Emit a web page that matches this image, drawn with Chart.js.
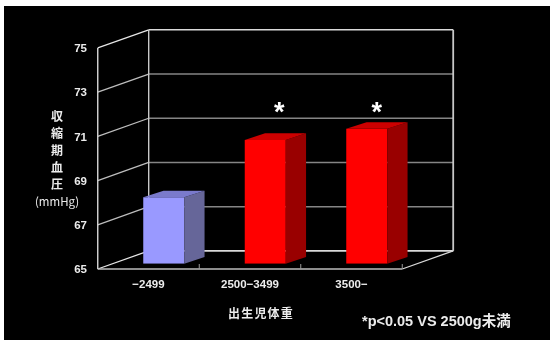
<!DOCTYPE html>
<html>
<head>
<meta charset="utf-8">
<style>
  html, body { margin: 0; padding: 0; background: #fff; }
  #wrap { position: absolute; left: 4px; top: 6px; width: 546px; height: 334px; background: #000; }
  canvas { display: block; }
</style>
<script src="https://cdn.jsdelivr.net/npm/chart.js@4"></script>
</head>
<body>
<div id="wrap"><canvas id="c" width="546" height="334"></canvas></div>
<script>
const categories = ['\u22122499', '2500\u22123499', '3500\u2212'];
const pressure = [68.0, 70.6, 71.1];
const faceColors = ['#9999FF', '#FF0000', '#FF0000'];
const sideColors = ['#666699', '#990000', '#990000'];
const topColors = ['#7A7ACC', '#CC0000', '#CC0000'];
const yTitleLines = ['収', '縮', '期', '血', '圧', '(mmHg)'];
const xTitle = '出生児体重';
const footnote = '*p<0.05 VS 2500g未満';
const starred = [1, 2];
const starShift = [14, 10];

const FONT = '"Liberation Sans", "Noto Sans CJK JP", sans-serif';
const CJK = '"Noto Sans CJK JP", sans-serif';
const TEXT = '#ECECEC';
// Oblique projection of the 3D box relative to the plane the bar faces sit on
const FRONT = { dx: -15.25, dy: 5.3 };
const BACK = { dx: 35.7, dy: -12.8 };
const BAR_DEPTH = { dx: 20.3, dy: -6.7 };

function seg(ctx, x1, y1, x2, y2, color, width) {
  ctx.strokeStyle = color;
  ctx.lineWidth = width;
  ctx.beginPath();
  ctx.moveTo(x1, y1);
  ctx.lineTo(x2, y2);
  ctx.stroke();
}

function poly(ctx, pts, color) {
  ctx.fillStyle = color;
  ctx.beginPath();
  pts.forEach((p, i) => i ? ctx.lineTo(p[0], p[1]) : ctx.moveTo(p[0], p[1]));
  ctx.closePath();
  ctx.fill();
}

const box3d = {
  id: 'box3d',
  // Walls, floor and gridlines of the box, behind the bars
  beforeDatasetsDraw(chart) {
    const { ctx, chartArea: a, scales: { y } } = chart;
    const fl = a.left + FRONT.dx, fr = a.right + FRONT.dx;
    const bl = a.left + BACK.dx, br = a.right + BACK.dx;
    ctx.save();
    y.ticks.forEach((t) => {
      const py = y.getPixelForValue(t.value);
      const edge = t.value === y.min || t.value === y.max;
      const back = edge ? '#DADADA' : '#858585';
      seg(ctx, fl, py + FRONT.dy, bl, py + BACK.dy, edge ? '#E6E6E6' : '#BDBDBD', 1.3);
      seg(ctx, bl, py + BACK.dy, br, py + BACK.dy, back, 1.6);
    });
    const top = a.top, bot = a.bottom;
    seg(ctx, fl, top + FRONT.dy, fl, bot + FRONT.dy, '#D8D8D8', 1.4);
    seg(ctx, bl, top + BACK.dy, bl, bot + BACK.dy, '#C8C8C8', 1.4);
    seg(ctx, br, top + BACK.dy, br, bot + BACK.dy, '#C8C8C8', 1.8);
    seg(ctx, fl, bot + FRONT.dy, fr, bot + FRONT.dy, '#BDBDBD', 1.4);
    seg(ctx, fr, bot + FRONT.dy, br, bot + BACK.dy, '#D8D8D8', 1.3);
    // Category separators on the front edge of the floor
    const step = (a.right - a.left) / categories.length;
    categories.forEach((_, i) => {
      const tx = fl + step * (i + 1);
      seg(ctx, tx, bot + FRONT.dy, tx, bot + FRONT.dy - 5, '#9A9A9A', 1);
    });
    ctx.restore();
  },
  // Side and top faces of each bar, then the text
  afterDatasetsDraw(chart) {
    const { ctx, scales: { x, y } } = chart;
    const meta = chart.getDatasetMeta(0);
    const d = BAR_DEPTH;
    ctx.save();
    meta.data.forEach((bar, i) => {
      const l = bar.x - bar.width / 2, r = bar.x + bar.width / 2;
      const t = bar.y, b = bar.base;
      poly(ctx, [[r, t], [r + d.dx, t + d.dy], [r + d.dx, b + d.dy], [r, b]], sideColors[i]);
      poly(ctx, [[l, t], [l + d.dx, t + d.dy], [r + d.dx, t + d.dy], [r, t]], topColors[i]);
    });

    ctx.fillStyle = '#FFFFFF';
    ctx.textAlign = 'center';
    ctx.textBaseline = 'middle';

    // Significance markers above the higher groups
    ctx.font = 'bold 27px ' + FONT;
    starred.forEach((i, k) => {
      ctx.fillText('*', x.getPixelForTick(i) + starShift[k], y.getPixelForValue(71.8));
    });

    ctx.fillStyle = TEXT;

    // Stacked vertical axis title
    yTitleLines.forEach((s, i) => {
      const last = i === yTitleLines.length - 1;
      ctx.font = (last ? '11.5px ' : 'bold 12px ') + CJK;
      ctx.fillText(s, 53, 110.5 + i * 17);
    });

    ctx.font = 'bold 12px ' + CJK;
    ctx.letterSpacing = '1.2px';
    ctx.fillText(xTitle, 257, 307);
    ctx.letterSpacing = '0px';

    ctx.textAlign = 'left';
    ctx.font = 'bold 14.5px ' + FONT;
    ctx.fillText(footnote, 358, 316);
    ctx.restore();
  }
};

new Chart(document.getElementById('c'), {
  type: 'bar',
  data: {
    labels: categories,
    datasets: [{
      data: pressure,
      base: 65,
      backgroundColor: faceColors,
      borderWidth: 0,
      barPercentage: 1,
      categoryPercentage: 0.404
    }]
  },
  options: {
    responsive: false,
    animation: false,
    layout: { padding: { top: 36.6, right: 132.5, left: 0, bottom: 0 } },
    plugins: { legend: { display: false }, tooltip: { enabled: false } },
    scales: {
      x: {
        grid: { display: false },
        border: { display: false },
        afterFit(s) { s.height = 76.3; },
        ticks: {
          color: TEXT,
          font: { family: FONT, size: 11.5, weight: 'bold' },
          padding: 6,
          labelOffset: FRONT.dx,
          maxRotation: 0
        }
      },
      y: {
        min: 65,
        max: 75,
        grid: { display: false },
        border: { display: false },
        afterFit(s) { s.width = 109; },
        ticks: {
          stepSize: 2,
          color: TEXT,
          font: { family: FONT, size: 11.5, weight: 'bold' },
          padding: 18,
          labelOffset: FRONT.dy + 1
        }
      }
    }
  },
  plugins: [box3d]
});
</script>
</body>
</html>
